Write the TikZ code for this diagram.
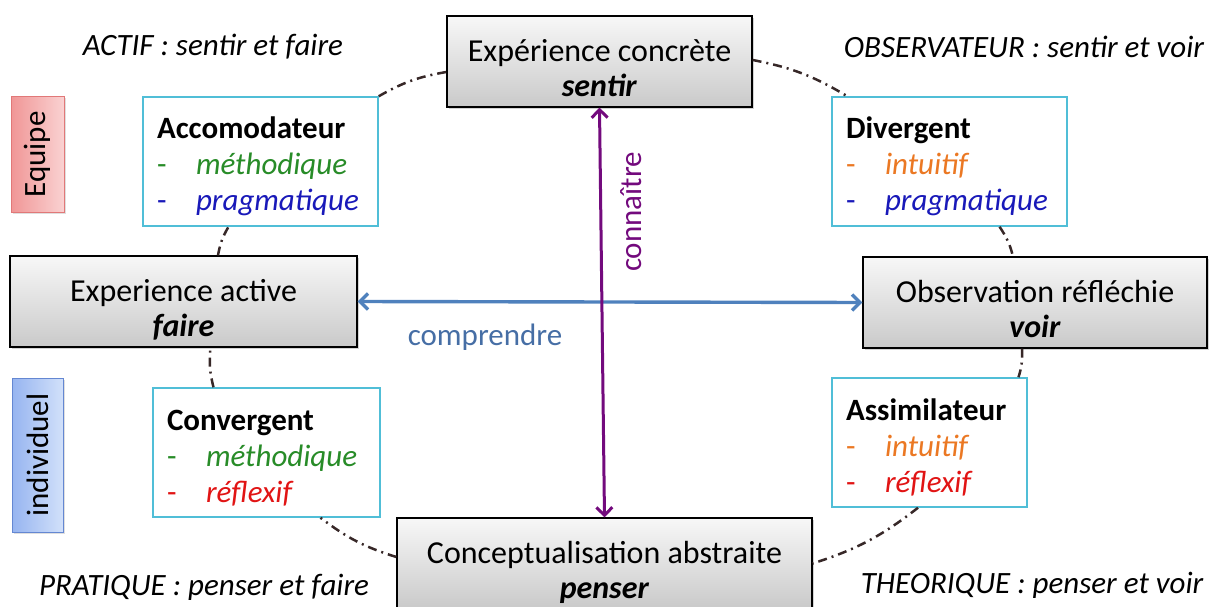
\documentclass[tikz,border=0pt]{standalone}
\usepackage{fontspec}
\setmainfont{Carlito}
\usetikzlibrary{arrows.meta,shadows}
\definecolor{cyanline}{RGB}{80,190,215}
\definecolor{arrowblue}{RGB}{79,129,189}
\definecolor{textblue}{RGB}{70,110,165}
\definecolor{arrowpurple}{RGB}{115,10,125}
\definecolor{itemgreen}{RGB}{40,140,40}
\definecolor{itemblue}{RGB}{25,25,185}
\definecolor{itemorange}{RGB}{235,120,35}
\definecolor{itemred}{RGB}{225,20,20}
\definecolor{cycleline}{RGB}{55,40,40}
\definecolor{equipeline}{RGB}{225,120,120}
\definecolor{equipelight}{RGB}{250,210,210}
\definecolor{equipedark}{RGB}{240,150,150}
\definecolor{indivline}{RGB}{100,135,210}
\definecolor{indivlight}{RGB}{210,225,250}
\definecolor{indivdark}{RGB}{150,180,240}
\newcommand{\kitem}[2]{\textcolor{#1}{\makebox[39pt][l]{-}\textit{#2}}}
\newcommand{\stagetext}[2]{\rule{0pt}{40pt}#1\\\textbf{\textit{#2}}\rule[-5pt]{0pt}{5pt}}
\newcommand{\styletext}[3]{\rule{0pt}{35pt}\textbf{#1}\\#2\\#3\rule[-8pt]{0pt}{8pt}}

\begin{document}
\begin{tikzpicture}[x=1pt,y=-1pt,
    font=\fontsize{31}{33}\selectfont,
    stage_box/.style={rectangle, draw=black, line width=1.2pt,
                      top color=gray!6, bottom color=gray!42,
                      drop shadow={opacity=0.35,shadow xshift=2pt,shadow yshift=-2pt},
                      align=center, minimum height=91pt, inner sep=0pt,
                      font=\fontsize{32}{35}\selectfont},
    style_box/.style={rectangle, draw=cyanline, line width=1.5pt, fill=white,
                      align=left, inner xsep=14pt, inner ysep=0pt,
                      minimum height=129pt, font=\fontsize{31}{36}\selectfont},
    group_box/.style={rectangle, rotate=90, line width=1pt, inner sep=0pt,
                      drop shadow={opacity=0.25,shadow xshift=1.5pt,shadow yshift=-1.5pt}},
    corner_text/.style={font=\fontsize{31}{33}\selectfont\itshape},
    cycle_link/.style={draw=cycleline, line width=2.5pt,
                       dash pattern=on 9pt off 5pt on 2pt off 5pt},
    tip/.tip={Straight Barb[length=8pt,width=16pt]}]
  \useasboundingbox (0,0) rectangle (1216,607);

  \node (actif) [corner_text] at (213,47) {ACTIF : sentir et faire};
  \node (observateur) [corner_text] at (1024,47) {OBSERVATEUR : sentir et voir};
  \node (pratique) [corner_text] at (204,587) {PRATIQUE : penser et faire};
  \node (theorique) [corner_text] at (1032,585) {THEORIQUE : penser et voir};

  \node (equipe) [group_box, draw=equipeline, left color=equipedark, right color=equipelight,
                  minimum width=115pt, minimum height=53pt]
        at (37.5,154.5) {Equipe};
  \node (individuel) [group_box, draw=indivline, left color=indivdark, right color=indivlight,
                      minimum width=154pt, minimum height=51pt]
        at (37.5,455) {individuel};

  \node (concrete) [stage_box, minimum width=305pt] at (599.5,61.5)
        {\stagetext{Expérience concrète}{sentir}};
  \node (active) [stage_box, minimum width=347pt] at (183.5,301.5)
        {\stagetext{Experience active}{faire}};
  \node (reflechie) [stage_box, minimum width=344pt] at (1035,302.5)
        {\stagetext{Observation réfléchie}{voir}};
  \node (abstraite) [stage_box, minimum width=415pt] at (604.5,563.5)
        {\stagetext{Conceptualisation abstraite}{penser}};

  \node (accomodateur) [style_box, text width=207pt] at (260.5,161.5)
        {\styletext{Accomodateur}{\kitem{itemgreen}{méthodique}}{\kitem{itemblue}{pragmatique}}};
  \node (convergent) [style_box, text width=199pt] at (266.5,452.5)
        {\styletext{Convergent}{\kitem{itemgreen}{méthodique}}{\kitem{itemred}{réflexif}}};
  \node (divergent) [style_box, text width=207pt] at (949.5,161.5)
        {\styletext{Divergent}{\kitem{itemorange}{intuitif}}{\kitem{itemblue}{pragmatique}}};
  \node (assimilateur) [style_box, text width=167pt] at (929.5,442.5)
        {\styletext{Assimilateur}{\kitem{itemorange}{intuitif}}{\kitem{itemred}{réflexif}}};

  \draw [cycle_link] ([yshift=1.5pt]concrete.east) to[bend left=10] ([xshift=16pt]divergent.north west);
  \draw [cycle_link] ([xshift=50pt]divergent.south) to[bend left=10] ([xshift=-22pt]reflechie.north);
  \draw [cycle_link] ([xshift=-13pt]reflechie.south) to[bend left=10] ([xshift=89pt]assimilateur.north);
  \draw [cycle_link] ([xshift=-11.5pt]assimilateur.south) to[bend left=10] (abstraite.east);
  \draw [cycle_link] ([yshift=6.5pt]abstraite.west) to[bend left=10] ([xshift=54pt]convergent.south);
  \draw [cycle_link] ([xshift=-53pt]convergent.north) to[bend left=10] ([xshift=27pt]active.south);
  \draw [cycle_link] ([xshift=34.5pt]active.north) to[bend left=10] ([xshift=-32pt]accomodateur.south);
  \draw [cycle_link] (accomodateur.north east) to[bend left=10] ([yshift=-10.5pt]concrete.west);

  \draw [arrowblue, line width=3.4pt, tip-tip] (active.east) -- (reflechie.west);
  \draw [arrowpurple, line width=3pt, tip-tip] (concrete.south) -- (abstraite.north);

  \node (comprendre) [text=textblue] at (485,337) {comprendre};
  \node (connaitre) [text=arrowpurple, rotate=90] at (631,212) {connaître};
\end{tikzpicture}
\end{document}
